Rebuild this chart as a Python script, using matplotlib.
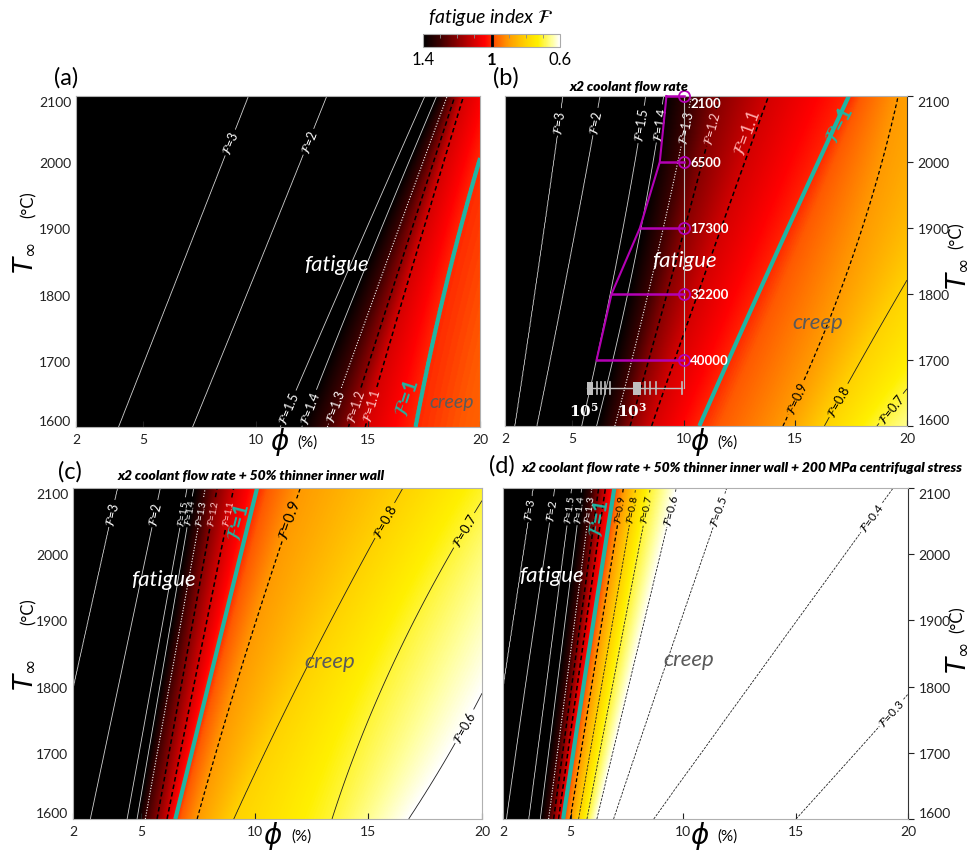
import numpy as np
import matplotlib
matplotlib.use('Agg')
import matplotlib.pyplot as plt
from matplotlib.colors import LinearSegmentedColormap, Normalize
from matplotlib.cm import ScalarMappable

plt.rcParams['font.family'] = ['Lato', 'DejaVu Sans']

W, H = 969, 854
TEAL = '#1fb5a3'
MAGENTA = '#b400b4'

# phi position of every contour at T = 1600, 1850, 2100;
# the first and last entries are off-plot anchors
T_REF = [1600, 1850, 2100]

levels_a = [6, 3, 2, 1.5, 1.4, 1.3, 1.2, 1.1, 1.0, 0.9]
phi_a_1600 = [-20, 3.90, 7.19, 11.10, 12.06, 13.20, 14.14, 14.88, 17.12, 26.0]
phi_a_1850 = [-20, 6.80, 10.20, 14.30, 15.00, 15.85, 16.50, 17.05, 18.74, 28.0]
phi_a_2100 = [-20, 9.69, 13.17, 17.55, 18.07, 18.54, 18.88, 19.26, 20.84, 30.0]

levels_b = [6, 3, 2, 1.5, 1.4, 1.3, 1.2, 1.1, 1.0, 0.9, 0.8, 0.7, 0.6]
phi_b_1600 = [-20, 2.45, 3.42, 5.43, 6.10, 6.92, 7.60, 8.56, 10.70, 14.45, 16.30, 18.65, 21.5]
phi_b_1850 = [-20, 3.55, 4.88, 7.00, 7.80, 8.75, 9.65, 11.15, 14.00, 17.50, 20.50, 24.50, 27.0]
phi_b_2100 = [-20, 4.60, 6.25, 8.30, 9.10, 10.35, 11.60, 13.80, 17.40, 19.60, 25.00, 30.00, 34.0]

levels_c = [6, 3, 2, 1.5, 1.4, 1.3, 1.2, 1.1, 1.0, 0.9, 0.8, 0.7, 0.6, 0.5]
phi_c_1600 = [-20, 0.74, 2.76, 4.38, 4.82, 5.18, 5.70, 6.14, 6.50, 7.46, 9.07, 13.40, 16.77, 22.0]
phi_c_1850 = [-20, 2.35, 4.30, 5.70, 6.07, 6.50, 7.02, 7.60, 8.30, 9.60, 12.60, 16.30, 20.85, 25.0]
phi_c_2100 = [-20, 3.97, 5.84, 7.02, 7.31, 7.82, 8.34, 9.07, 10.10, 12.00, 16.52, 20.35, 23.50, 28.0]

levels_d = [6, 3, 2, 1.5, 1.4, 1.3, 1.2, 1.1, 1.0, 0.9, 0.8, 0.7, 0.6, 0.5, 0.4, 0.3, 0.2]
phi_d_1600 = [-20, 1.12, 2.15, 3.14, 3.66, 4.03, 4.25, 4.47, 4.67, 4.99, 5.36, 5.73, 6.17, 6.91, 8.69, 15.02, 25.0]
phi_d_1850 = [-20, 2.24, 3.20, 4.10, 4.58, 5.00, 5.25, 5.50, 5.80, 6.17, 6.63, 7.14, 7.93, 9.40, 14.00, 21.60, 30.0]
phi_d_2100 = [-20, 3.35, 4.30, 5.05, 5.50, 5.95, 6.25, 6.55, 6.95, 7.35, 7.90, 8.55, 9.70, 11.94, 19.34, 28.00, 35.0]

# where the contour labels sit (phi, T)
labels_a = {3: (8.42, 2035), 2: (12.1, 2035), 1.5: (11.17, 1633), 1.4: (12.13, 1633),
            1.3: (13.3, 1635), 1.2: (14.2, 1635), 1.1: (14.9, 1635)}
labels_b = {3: (4.09, 2062), 2: (5.65, 2065), 1.5: (7.67, 2060), 1.4: (8.56, 2060),
            1.3: (9.9, 2055), 1.2: (11.0, 2055), 0.9: (14.5, 1652), 0.8: (16.6, 1645),
            0.7: (18.9, 1637)}
labels_c = {3: (3.42, 2064), 2: (5.18, 2064), 1.5: (6.65, 2064), 1.4: (7.13, 2064),
            1.3: (7.53, 2064), 1.2: (8.01, 2064), 1.1: (8.63, 2064), 0.9: (11.27, 2056),
            0.8: (15.45, 2056), 0.7: (18.97, 2041), 0.6: (18.7, 1750)}
labels_d = {3: (2.84, 2069), 2: (3.8, 2069), 1.5: (4.77, 2069), 1.4: (5.25, 2069),
            1.3: (5.76, 2069), 0.9: (7.2, 2069), 0.8: (7.68, 2069), 0.7: (8.36, 2069),
            0.6: (9.35, 2069), 0.5: (11.23, 2069), 0.4: (18.04, 2064), 0.3: (18.97, 1769)}

# cycles overlay in (b)
cyc_T = [2100, 2000, 1900, 1800, 1700]
cyc_N = ['2100', '6500', '17300', '32200', '40000']
cyc_phi_left = [9.23, 8.93, 8.04, 6.77, 6.10]
cyc_phi = 10
scale_T = 1657
scale_blocks = [(5.65, 5.95), (7.74, 8.10)]
scale_ticks = [6.10, 6.32, 6.47, 6.70, 8.26, 8.49, 8.78, 9.93]

cmap_nodes = [0.0, 0.06, 0.16, 0.25, 0.375, 0.47, 0.5, 0.55, 0.625, 0.75, 0.875, 1.0]
cmap_colors = ['#ffffff', '#ffff99', '#fff000', '#ffd200', '#ff9a00', '#ff5a00',
               '#ff2600', '#ff0000', '#d40000', '#8a0000', '#3c0000', '#000000']
cmap = LinearSegmentedColormap.from_list('fat', list(zip(cmap_nodes, cmap_colors)))
norm = Normalize(0.6, 1.4)

phi = np.linspace(2, 20, 500)
T = np.linspace(1600, 2100, 300)


def build_field(levels, rows):
    rows = np.array(rows)
    coefs = [np.polyfit(T_REF, rows[:, k], 2) for k in range(len(levels))]
    F = np.empty((len(T), len(phi)))
    for i, t in enumerate(T):
        pos = np.maximum.accumulate([np.polyval(c, t) for c in coefs])
        F[i] = np.interp(phi, pos, levels)
    return F


def line_style(lev, thin_ls):
    if lev >= 1.4:
        return dict(colors='#d0d0d0', linewidths=0.6, linestyles='solid')
    if abs(lev - 1.3) < 1e-6:
        return dict(colors='white', linewidths=0.8, linestyles=[(0, (1, 1.5))])
    if lev > 1.05:
        return dict(colors='black', linewidths=1.1, linestyles=[(0, (3, 2))])
    if abs(lev - 1.0) < 1e-6:
        return dict(colors=TEAL, linewidths=3.0, linestyles='solid')
    if abs(lev - 0.9) < 1e-6:
        return dict(colors='black', linewidths=0.9, linestyles=[(0, (3, 2))])
    return dict(colors='#202020', linewidths=0.6, linestyles=thin_ls)


def label_color(lev):
    if lev >= 1.3:
        return 'white'
    if lev > 1.05:
        return '#ffc8c8'
    return 'black'


def px(x, y):
    return x / W, 1 - y / H


def panel(rect, levels, rows, labels, lab_size, thin_ls, right=False):
    ax = fig.add_axes(rect)
    F = build_field(levels, rows)
    ax.imshow(F, extent=[2, 20, 1600, 2100], origin='lower', aspect='auto',
              cmap=cmap, norm=norm, interpolation='bilinear')
    for lev in levels:
        if not (F.min() < lev < F.max()):
            continue
        cs = ax.contour(phi, T, F, levels=[lev], **line_style(lev, thin_ls))
        if lev in labels:
            size = lab_size.get(lev, lab_size['default']) if isinstance(lab_size, dict) else lab_size
            ax.clabel(cs, fmt={lev: r'$\mathcal{F}$=' + f'{lev:g}'}, manual=[labels[lev]],
                      inline=True, inline_spacing=2, fontsize=size, colors=label_color(lev))
    ax.set_xlim(2, 20)
    ax.set_ylim(1600, 2100)
    ax.set_xticks([2, 5, 10, 15, 20])
    ax.set_yticks(range(1600, 2101, 100))
    ax.tick_params(axis='x', direction='in', length=4, labelsize=10, colors='#222222', pad=4)
    if right:
        ax.yaxis.tick_right()
        ax.tick_params(axis='y', direction='out', length=4, labelsize=10, colors='#222222')
    else:
        ax.tick_params(axis='y', direction='in', length=0, labelsize=10, colors='#222222')
    tl = ax.get_yticklabels()
    tl[0].set_va('bottom')
    tl[-1].set_va('top')
    for s in ax.spines.values():
        s.set_color('#b0b0b0')
    if right:
        ax.spines['right'].set_color('#333333')
    return ax


fig = plt.figure(figsize=(W / 100, H / 100), dpi=100)


def rect(l, t, r, b):
    return [l / W, 1 - b / H, (r - l) / W, (b - t) / H]


ax_a = panel(rect(76, 97, 480, 428), levels_a, [phi_a_1600, phi_a_1850, phi_a_2100],
             labels_a, 9, 'solid')
ax_b = panel(rect(505, 97, 907, 427), levels_b, [phi_b_1600, phi_b_1850, phi_b_2100],
             labels_b, 9, 'solid', right=True)
ax_c = panel(rect(73, 489, 482, 820), levels_c, [phi_c_1600, phi_c_1850, phi_c_2100],
             labels_c, {'default': 7, 0.9: 11, 0.8: 9.5, 0.7: 9.5, 0.6: 9, 3: 9, 2: 9}, 'solid')
ax_d = panel(rect(503, 489, 908, 820), levels_d, [phi_d_1600, phi_d_1850, phi_d_2100],
             labels_d, {'default': 7.5, 3: 8.5, 2: 8.5, 0.6: 8.5, 0.5: 8.5, 0.4: 8.5, 0.3: 8.5},
             [(0, (3, 1.5))], right=True)

# F=1 labels
for ax, x, y, rot in [(ax_a, 16.75, 1645, 72), (ax_b, 17.0, 2058, 63),
                      (ax_c, 9.3, 2050, 76), (ax_d, 6.3, 2055, 80)]:
    ax.text(x, y, r'$\mathcal{F}$=1', color=TEAL, fontsize=15, fontweight='bold',
            rotation=rot, ha='center', va='center')
ax_b.text(12.85, 2045, r'$\mathcal{F}$=1.1', color='#ffa8a8', fontsize=13,
          rotation=70, ha='center', va='center')

# region names
for ax, (fx, fy), (cx, cy) in [(ax_a, (13.6, 1846), (18.74, 1638)),
                                (ax_b, (10.05, 1851), (16.0, 1758)),
                                (ax_c, (5.99, 1963), (13.3, 1839)),
                                (ax_d, (4.17, 1968), (10.24, 1842))]:
    ax.text(fx, fy, 'fatigue', color='white', fontsize=16, style='italic',
            ha='center', va='center')
    ax.text(cx, cy, 'creep', color='#5a5a5a', fontsize=14 if ax is ax_a else 16,
            style='italic', ha='center', va='center')

# cycles overlay in (b)
ax_b.plot([cyc_phi, cyc_phi], [scale_T, 2100], color='#bbbbbb', lw=0.8, zorder=4)
ax_b.plot(cyc_phi_left, cyc_T, color=MAGENTA, lw=1.5, zorder=5, clip_on=False)
for i, (pl, t, n) in enumerate(zip(cyc_phi_left, cyc_T, cyc_N)):
    ax_b.plot([pl, cyc_phi], [t, t], color=MAGENTA, lw=1.8, zorder=5, clip_on=False)
    ax_b.plot(cyc_phi, t, 'o', ms=8, mfc='none', mec=MAGENTA, mew=1.3, zorder=6, clip_on=False)
    ax_b.text(cyc_phi + 0.3, t - (10 if i == 0 else 0), n, color='white', fontsize=9.5,
              fontweight='bold', ha='left', va='center', zorder=7)
ax_b.plot([scale_blocks[0][0], scale_ticks[-1]], [scale_T, scale_T], color='#c0c0c0', lw=1, zorder=4)
for a, b in scale_blocks:
    ax_b.fill_between([a, b], scale_T - 10, scale_T + 10, color='#c0c0c0', lw=0, zorder=4)
for x in scale_ticks:
    ax_b.plot([x, x], [scale_T - 9, scale_T + 9], color='#c0c0c0', lw=1.2, zorder=4)
ax_b.text(5.55, 1624, r'$\mathbf{10^{5}}$', color='white', fontsize=11,
          ha='center', va='center', math_fontfamily='dejavuserif')
ax_b.text(7.7, 1624, r'$\mathbf{10^{3}}$', color='white', fontsize=11,
          ha='center', va='center', math_fontfamily='dejavuserif')

# titles and panel letters
title_kw = dict(fontsize=10, fontweight='heavy', style='italic', ha='left', va='center')
fig.text(*px(570, 87), 'x2 coolant flow rate', **title_kw)
fig.text(*px(118, 476), 'x2 coolant flow rate + 50% thinner inner wall', **title_kw)
fig.text(*px(522, 468), 'x2 coolant flow rate + 50% thinner inner wall + 200 MPa centrifugal stress',
         **title_kw)
for lab, (x, y) in [('(a)', (66, 78)), ('(b)', (506, 78)), ('(c)', (70, 472)), ('(d)', (502, 466))]:
    fig.text(*px(x, y), lab, fontsize=17, ha='center', va='center')

# axis labels
for tx, ty, cx, cy in [(24, 258, 29, 205), (957, 274, 957, 236),
                       (24, 675, 29, 612), (957, 658, 958, 620)]:
    fig.text(*px(tx, ty), r'$T_{\infty}$', fontsize=19, rotation=90, ha='center', va='center')
    fig.text(*px(cx, cy), '(°C)', fontsize=12, rotation=90, ha='center', va='center')
for x, y in [(280, 442), (700, 442), (273, 836), (700, 836)]:
    fig.text(*px(x, y), r'$\phi$', fontsize=20, ha='center', va='center')
    fig.text(*px(x + 28, y + 1), '(%)', fontsize=11, ha='center', va='center')

# colorbar
cax = fig.add_axes(rect(423, 35, 560, 48))
cb = fig.colorbar(ScalarMappable(norm=norm, cmap=cmap), cax=cax, orientation='horizontal')
cax.invert_xaxis()
cb.set_ticks([1.4, 1.0, 0.6], labels=['1.4', '1', '0.6'])
cax.set_xticks([1.3, 1.2, 1.1, 0.9, 0.8, 0.7], minor=True)
cax.tick_params(which='major', length=0, labelsize=12, pad=3)
cax.tick_params(which='minor', direction='in', top=True, bottom=False, length=3, color='#888888')
for t in cax.get_xticklabels():
    if t.get_text() == '1':
        t.set_fontweight('bold')
cax.axvline(1.0, color='black', lw=2)
cb.outline.set_edgecolor('#aaaaaa')
fig.text(*px(491, 18), r'fatigue index $\mathcal{F}$', fontsize=14, style='italic',
         ha='center', va='center')

fig.savefig('out.png', dpi=100)
